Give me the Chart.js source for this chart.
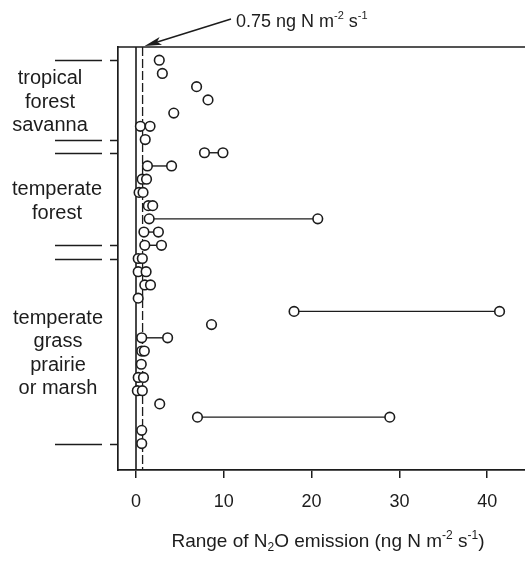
<!DOCTYPE html>
<html lang="en">

<head>
    <meta charset="UTF-8">
    <title>Range of N2O emission</title>
    <script src="https://cdnjs.cloudflare.com/ajax/libs/Chart.js/4.4.1/chart.umd.min.js"></script>
    <style>
        body {
            margin: 0;
            background: #fff;
        }

        .chart-wrapper {
            width: 525px;
            height: 562px;
        }
    </style>
</head>

<body>
    <div class="chart-wrapper">
        <canvas id="rangeChart" width="525" height="562"></canvas>
    </div>

    <script>
        // one entry per site, top to bottom (row 1 = top)
        const lowValues = [2.65, 3.0, 6.9, 8.2, 4.3, 0.5, 1.05, 7.8, 1.3, 0.7,
            0.35, 1.4, 1.5, 0.9, 1.0, 0.25, 0.25, 1.0, 0.25, 18.0,
            8.6, 0.65, 0.65, 0.6, 0.25, 0.15, 2.7, 7.0, 0.65, 0.65];
        const highValues = [null, null, null, null, null, 1.6, null, 9.9, 4.05, 1.2,
            0.8, 1.9, 20.7, 2.55, 2.9, 0.72, 1.15, 1.65, null, 41.4,
            null, 3.6, 0.95, null, 0.85, 0.72, null, 28.9, null, null];

        // ecosystem groups (first and last row of each)
        const groupNames = [
            ['tropical', 'forest', 'savanna'],
            ['temperate', 'forest'],
            ['temperate', 'grass', 'prairie', 'or marsh']
        ];
        const groupFirstRow = [1, 8, 16];
        const groupLastRow = [7, 15, 30];

        const thresholdValue = 0.75;
        const xTickValues = [0, 10, 20, 30, 40];

        const INK = '#1c1c1c';
        const FONT = "'Liberation Sans', Arial, sans-serif";

        // draw text with sub/superscripts
        function richWidth(ctx, parts, size) {
            let w = 0;
            parts.forEach(p => {
                ctx.font = (p.sub || p.sup ? Math.round(size * 0.62) : size) + 'px ' + FONT;
                w += ctx.measureText(p.t).width;
            });
            return w;
        }

        function drawRich(ctx, parts, x, y, size) {
            ctx.textAlign = 'left';
            ctx.textBaseline = 'alphabetic';
            parts.forEach(p => {
                const small = p.sub || p.sup;
                ctx.font = (small ? Math.round(size * 0.62) : size) + 'px ' + FONT;
                let dy = 0;
                if (p.sup) dy = -size * 0.42;
                if (p.sub) dy = size * 0.22;
                ctx.fillText(p.t, x, y + dy);
                x += ctx.measureText(p.t).width;
            });
        }

        const titleParts = [
            { t: 'Range of N' }, { t: '2', sub: true }, { t: 'O emission (ng N m' },
            { t: '-2', sup: true }, { t: ' s' }, { t: '-1', sup: true }, { t: ')' }
        ];
        const noteParts = [
            { t: '0.75 ng N m' }, { t: '-2', sup: true }, { t: ' s' }, { t: '-1', sup: true }
        ];

        // frame, reference lines, group marks and text
        const decorPlugin = {
            id: 'decor',
            beforeDatasetsDraw(chart) {
                const { ctx, chartArea, scales } = chart;
                const x0 = scales.x.getPixelForValue(0);
                const xT = scales.x.getPixelForValue(thresholdValue);
                ctx.save();
                ctx.strokeStyle = INK;
                ctx.lineWidth = 1.6;
                ctx.beginPath();
                ctx.moveTo(chartArea.left, chartArea.top);
                ctx.lineTo(chartArea.right, chartArea.top);
                ctx.moveTo(x0, chartArea.top);
                ctx.lineTo(x0, chartArea.bottom);
                ctx.stroke();
                ctx.lineWidth = 1.3;
                ctx.setLineDash([9, 3]);
                ctx.beginPath();
                ctx.moveTo(xT, chartArea.top);
                ctx.lineTo(xT, chartArea.bottom);
                ctx.stroke();
                ctx.restore();
            },
            afterDraw(chart) {
                const { ctx, chartArea, scales } = chart;
                const y = scales.y;
                ctx.save();
                ctx.strokeStyle = INK;
                ctx.fillStyle = INK;
                ctx.lineWidth = 1.3;

                // group boundary marks on the left
                const marks = [...groupFirstRow, ...groupLastRow];
                ctx.beginPath();
                marks.forEach(r => {
                    const py = Math.round(y.getPixelForValue(r)) + 0.5;
                    ctx.moveTo(55, py);
                    ctx.lineTo(102, py);
                    ctx.moveTo(110, py);
                    ctx.lineTo(chartArea.left, py);
                });
                ctx.stroke();

                // group labels
                const centers = [50, 57, 58];
                ctx.font = '20px ' + FONT;
                ctx.textAlign = 'center';
                ctx.textBaseline = 'alphabetic';
                groupNames.forEach((lines, g) => {
                    const mid = y.getPixelForValue((groupFirstRow[g] + groupLastRow[g]) / 2) + 3;
                    const step = 23.5;
                    lines.forEach((txt, k) => {
                        const cy = mid + (k - (lines.length - 1) / 2) * step;
                        ctx.fillText(txt, centers[g], cy + 5);
                    });
                });

                // axis title
                const tw = richWidth(ctx, titleParts, 19);
                drawRich(ctx, titleParts, 328 - tw / 2, 547, 19);

                // threshold note with arrow
                drawRich(ctx, noteParts, 236, 27, 18);
                const tipX = scales.x.getPixelForValue(thresholdValue) + 2;
                const tipY = chartArea.top - 1;
                const sx = 231, sy = 19;
                const ang = Math.atan2(sy - tipY, sx - tipX);
                ctx.lineWidth = 1.4;
                ctx.beginPath();
                ctx.moveTo(sx, sy);
                ctx.lineTo(tipX + Math.cos(ang) * 10, tipY + Math.sin(ang) * 10);
                ctx.stroke();
                const len = 17, half = 4;
                const bx = tipX + Math.cos(ang) * len, by = tipY + Math.sin(ang) * len;
                ctx.beginPath();
                ctx.moveTo(tipX, tipY);
                ctx.lineTo(bx - Math.sin(ang) * half, by + Math.cos(ang) * half);
                ctx.lineTo(tipX + Math.cos(ang) * (len - 4), tipY + Math.sin(ang) * (len - 4));
                ctx.lineTo(bx + Math.sin(ang) * half, by - Math.cos(ang) * half);
                ctx.closePath();
                ctx.fill();
                ctx.restore();
            }
        };

        // connecting lines for sites with a range
        const rangeSets = [];
        lowValues.forEach((lo, i) => {
            if (highValues[i] == null) return;
            rangeSets.push({
                data: [{ x: lo, y: i + 1 }, { x: highValues[i], y: i + 1 }],
                showLine: true,
                borderColor: INK,
                borderWidth: 1.4,
                pointRadius: 0,
                order: 2
            });
        });

        const pointData = [];
        lowValues.forEach((lo, i) => {
            pointData.push({ x: lo, y: i + 1 });
            if (highValues[i] != null) pointData.push({ x: highValues[i], y: i + 1 });
        });

        new Chart(document.getElementById('rangeChart'), {
            type: 'scatter',
            data: {
                datasets: [{
                    data: pointData,
                    pointRadius: 4.8,
                    pointBorderWidth: 1.6,
                    pointBorderColor: INK,
                    pointBackgroundColor: '#fff',
                    order: 1
                }, ...rangeSets]
            },
            options: {
                responsive: false,
                animation: false,
                layout: {
                    autoPadding: false,
                    padding: { left: 118, top: 47, right: 0, bottom: 0 }
                },
                plugins: {
                    legend: { display: false },
                    tooltip: { enabled: false }
                },
                scales: {
                    x: {
                        type: 'linear',
                        position: 'bottom',
                        min: -2.05,
                        max: 44.3,
                        afterBuildTicks: scale => {
                            scale.ticks = xTickValues.map(v => ({ value: v }));
                        },
                        afterFit: scale => {
                            scale.height = 92;
                            scale.paddingLeft = 0;
                            scale.paddingRight = 0;
                        },
                        ticks: {
                            color: INK,
                            padding: 13,
                            font: { family: FONT, size: 18 }
                        },
                        grid: {
                            display: true,
                            drawOnChartArea: false,
                            tickLength: 8,
                            color: INK,
                            lineWidth: 1.5
                        },
                        border: { display: true, color: INK, width: 1.7 }
                    },
                    y: {
                        type: 'linear',
                        min: 0,
                        max: 32,
                        reverse: true,
                        afterFit: scale => {
                            scale.width = 0;
                            scale.paddingTop = 0;
                            scale.paddingBottom = 0;
                        },
                        ticks: { display: false },
                        grid: { display: false },
                        border: { display: true, color: INK, width: 1.7 }
                    }
                }
            },
            plugins: [decorPlugin]
        });
    </script>
</body>

</html>
